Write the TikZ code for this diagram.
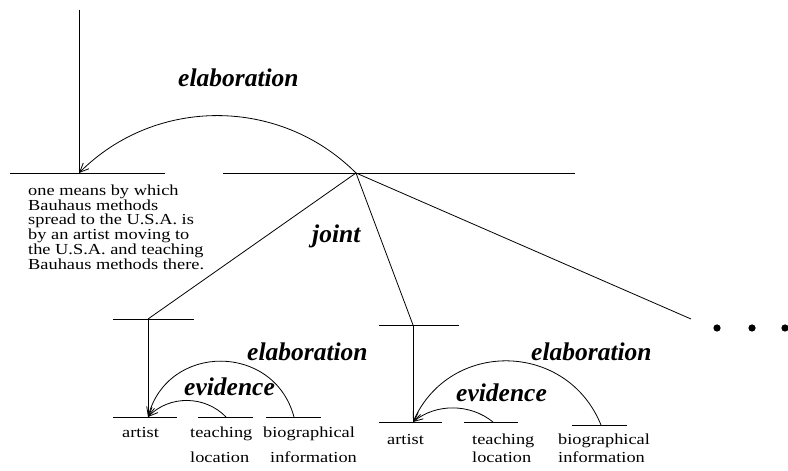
\documentclass[tikz,border=0pt]{standalone}
\usepackage{fontspec}
\setmainfont{Liberation Serif}
\newfontfamily\leaffont[FakeStretch=1.2]{Liberation Serif}
\usetikzlibrary{arrows.meta}

\tikzset{
  span/.style={line width=.8pt},
  rel/.style={line width=.8pt,-{Straight Barb[length=9pt,width=8pt]}},
  relname/.style={font=\fontsize{25.5}{28}\selectfont\bfseries\itshape,inner sep=0pt,anchor=base west},
  leaf/.style={font=\leaffont\fontsize{15.3}{13.8}\selectfont,inner sep=0pt,anchor=base west},
}

\begin{document}
\begin{tikzpicture}[x=1pt,y=1pt]
  \useasboundingbox (0,0) rectangle (788,471);
  % top level
  \coordinate (top) at (79,461);
  \coordinate (nuc) at (79,298);
  \coordinate (jnt) at (356,298);
  \draw[span] (10,298) -- (165,298) (223,298) -- (575,298);
  \draw[span] (top) -- (nuc);
  \draw[rel] (jnt) to[bend right=45] (nuc);
  \node[relname] (elabtop) at (178,384) {elaboration};
  \node[leaf,anchor=north west,align=left] (nuctext) at (28,286) {one means by which\\Bauhaus methods\\spread to the U.S.A. is\\by an artist moving to\\the U.S.A. and teaching\\Bauhaus methods there.};
  \node[relname] (joint) at (312,228) {joint};
  % joint members
  \coordinate (lt) at (148,152);
  \coordinate (mt) at (413,146);
  \coordinate (rt) at (691,152);
  \draw[span] (jnt) -- (lt);
  \draw[span] (jnt) -- (mt);
  \draw[span] (jnt) -- (rt);
  \foreach \x in {717,752,785}
    \fill (\x,143) circle[radius=3.6];
  % left subtree
  \coordinate (la) at (148,54);
  \coordinate (lb) at (226,54);
  \coordinate (lc) at (294,54);
  \draw[span] (113,152) -- (194,152);
  \draw[span] (lt) -- (la);
  \draw[span] (113,54) -- (177,54) (198,54) -- (253,54) (266,54) -- (321,54);
  \draw[rel] (lb) to[bend right=46] (la);
  \draw[rel] (lc) to[bend right=75,looseness=1.35] (la);
  \node[relname] (elabl) at (247,110) {elaboration};
  \node[relname] (evidl) at (184,75) {evidence};
  \node[leaf] (artl) at (122,33) {artist};
  \node[leaf] (teachl) at (190,33) {teaching};
  \node[leaf] (locl) at (190,8) {location};
  \node[leaf] (biol) at (263,33) {biographical};
  \node[leaf] (infol) at (270,8) {information};
  % middle subtree
  \coordinate (ma) at (413,49);
  \coordinate (mb) at (493,49);
  \coordinate (mc) at (601,46);
  \draw[span] (379,146) -- (459,146);
  \draw[span] (mt) -- (ma);
  \draw[span] (379,49) -- (442,49) (464,49) -- (518,49) (572,46) -- (627,46);
  \draw[rel] (mb) to[bend right=39,looseness=.95] (ma);
  \draw[rel] (mc) to[bend right=67,looseness=1.23] (ma);
  \node[relname] (elabm) at (531,110) {elaboration};
  \node[relname] (evidm) at (456,69) {evidence};
  \node[leaf] (artm) at (387,26) {artist};
  \node[leaf] (teachm) at (472,26) {teaching};
  \node[leaf] (locm) at (472,8) {location};
  \node[leaf] (biom) at (558,26) {biographical};
  \node[leaf] (infom) at (558,8) {information};
\end{tikzpicture}
\end{document}
